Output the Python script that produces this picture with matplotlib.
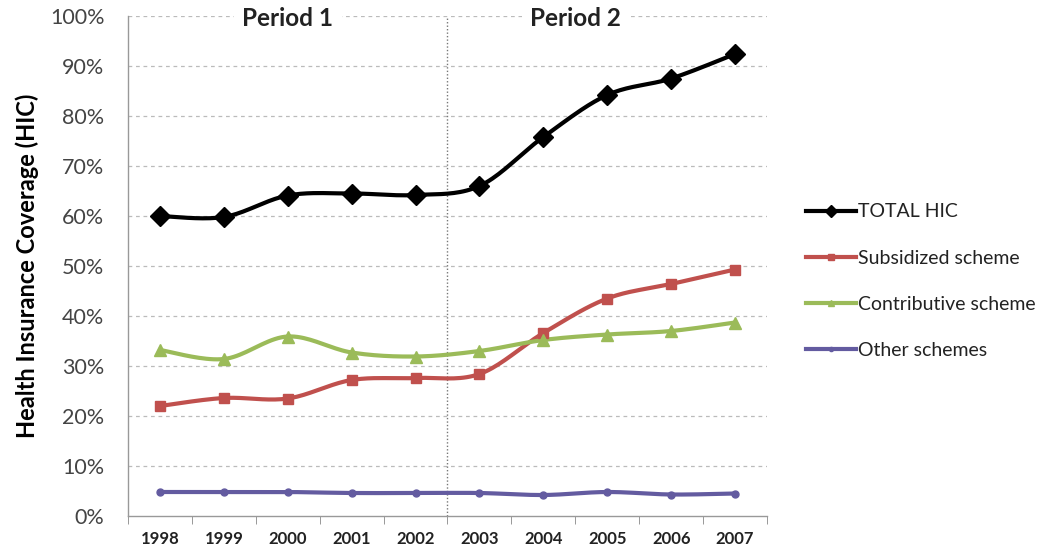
import numpy as np
import matplotlib
matplotlib.use("Agg")
import matplotlib.pyplot as plt
from matplotlib.ticker import MultipleLocator, FuncFormatter

years = ["1998", "1999", "2000", "2001", "2002", "2003", "2004", "2005", "2006", "2007"]
total_hic = [60.0, 59.8, 64.1, 64.5, 64.2, 66.0, 75.8, 84.2, 87.5, 92.4]
subsidized = [22.0, 23.6, 23.5, 27.2, 27.6, 28.4, 36.6, 43.5, 46.4, 49.3]
contributive = [33.2, 31.4, 35.9, 32.7, 31.9, 33.0, 35.2, 36.3, 37.0, 38.7]
other = [4.8, 4.8, 4.8, 4.6, 4.6, 4.6, 4.2, 4.8, 4.3, 4.5]

series_names = ["TOTAL HIC", "Subsidized scheme", "Contributive scheme", "Other schemes"]
period_labels = ["Period 1", "Period 2"]

plt.rcParams['font.family'] = ['Lato', 'DejaVu Sans']

def smooth(x, y, n=20):
    x = np.asarray(x, float); y = np.asarray(y, float)
    xs, ys = [], []
    for i in range(len(x) - 1):
        p0 = np.array([x[max(i-1, 0)], y[max(i-1, 0)]])
        p1 = np.array([x[i], y[i]])
        p2 = np.array([x[i+1], y[i+1]])
        p3 = np.array([x[min(i+2, len(x)-1)], y[min(i+2, len(x)-1)]])
        t = np.linspace(0, 1, n, endpoint=(i == len(x) - 2))
        c1 = p1 + (p2 - p0) / 6.0
        c2 = p2 - (p3 - p1) / 6.0
        pts = ((1-t)**3)[:, None]*p1 + (3*(1-t)**2*t)[:, None]*c1 + (3*(1-t)*t**2)[:, None]*c2 + (t**3)[:, None]*p2
        xs.extend(pts[:, 0]); ys.extend(pts[:, 1])
    return np.array(xs), np.array(ys)

fig = plt.figure(figsize=(10.53, 5.52), dpi=100)
ax = fig.add_axes([128/1053, 36/552, (767-128)/1053, (516-16)/552])

x = np.arange(len(years))
styles = [
    (total_hic, "black", "D", 10, 3.0),
    (subsidized, "#C0504D", "s", 7, 3.0),
    (contributive, "#9BBB59", "^", 8, 3.0),
    (other, "#635BA0", "o", 5, 3.0),
]
handles = []
for (vals, col, mk, ms, lw), name in zip(styles, series_names):
    sx, sy = smooth(x, vals)
    ax.plot(sx, sy, color=col, lw=lw, zorder=3, solid_capstyle='round')
    ax.plot(x, vals, linestyle='none', marker=mk, ms=ms, color=col, zorder=4)
    h, = ax.plot([], [], color=col, lw=lw, marker=mk, ms=ms*0.6, label=name)
    handles.append(h)

ax.set_xlim(-0.5, len(years) - 0.5)
ax.set_ylim(0, 100)
ax.yaxis.set_major_locator(MultipleLocator(10))
ax.yaxis.set_major_formatter(FuncFormatter(lambda v, p: f"{int(v)}%"))
ax.set_xticks(x)
ax.set_xticklabels(years, fontsize=12, fontweight='bold', color='#222222')
ax.set_xticks(np.arange(-0.5, len(years)), minor=True)
ax.tick_params(axis='x', which='major', length=0, pad=11)
ax.tick_params(axis='x', which='minor', length=6, color='#888888', direction='out')
ax.tick_params(axis='y', length=0, labelsize=15.5, colors='#444444', pad=17)

for yv in range(10, 101, 10):
    ax.axhline(yv, color='#BBBBBB', lw=0.9, ls=(0, (3, 3)), zorder=1)
ax.axvline(4.5, color='#777777', lw=1.0, ls=(0, (1, 1.5)), zorder=2)

for s in ['top', 'right']:
    ax.spines[s].set_visible(False)
for s in ['left', 'bottom']:
    ax.spines[s].set_color('#999999')
    ax.spines[s].set_linewidth(1.0)

ax.set_ylabel("Health Insurance Coverage (HIC)", fontsize=17, fontweight='bold')
ax.yaxis.set_label_coords(-(128 - 39) / (767 - 128), 0.5)

ax.text(2.0, 99.5, period_labels[0], ha='center', va='center', fontsize=17.5, fontweight='bold',
        color='#222222', bbox=dict(facecolor='white', edgecolor='none', pad=6), zorder=5)
ax.text(6.5, 99.5, period_labels[1], ha='center', va='center', fontsize=17.5, fontweight='bold',
        color='#222222', bbox=dict(facecolor='white', edgecolor='none', pad=6), zorder=5)

fig.legend(handles=handles, loc='upper left', bbox_to_anchor=(788/1053, 1 - 186/552),
           frameon=False, fontsize=14, handlelength=2.6, handletextpad=0.1,
           labelspacing=1.5, labelcolor='#222222')

fig.savefig("out.png", dpi=100)
